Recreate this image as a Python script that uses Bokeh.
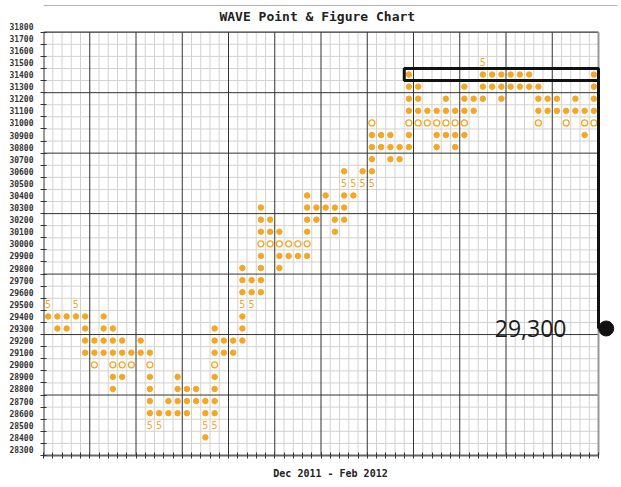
import numpy as np
from bokeh.plotting import figure
from bokeh.models import FixedTicker, NumeralTickFormatter
from bokeh.core.properties import value
from bokeh.embed import file_html
from bokeh.resources import INLINE

# ---------------- data ----------------
title_text = "WAVE Point & Figure Chart"
x_label = "Dec 2011 - Feb 2012"

price_ticks = [28300, 28400, 28500, 28600, 28700, 28800, 28900, 29000, 29100,
               29200, 29300, 29400, 29500, 29600, 29700, 29800, 29900, 30000,
               30100, 30200, 30300, 30400, 30500, 30600, 30700, 30800, 30900,
               31000, 31100, 31200, 31300, 31400, 31500, 31600, 31700, 31800]

filled_prices = [31400, 31300, 31200, 31100, 30900, 30800, 30700, 30600, 30400,
                 30300, 30200, 30100, 29900, 29800, 29700, 29600, 29400, 29300,
                 29200, 29100, 28900, 28800, 28700, 28600, 28400]
filled_columns = [
    [39, 47, 48, 49, 50, 51, 52, 59],
    [39, 40, 45, 47, 48, 49, 50, 51, 52, 53, 59],
    [39, 40, 43, 45, 46, 47, 49, 53, 54, 55, 57, 59],
    [39, 40, 41, 42, 43, 44, 45, 46, 53, 54, 55, 56, 57, 58, 59],
    [35, 36, 37, 39, 42, 43, 44, 45, 58],
    [35, 36, 37, 38, 39, 42, 44],
    [35, 37, 38],
    [32, 34, 35],
    [28, 30, 32, 33],
    [23, 28, 29, 30, 31, 32],
    [23, 24, 28, 29, 31, 32],
    [23, 24, 25, 28, 31],
    [23, 25, 26, 27, 28],
    [21, 23, 25],
    [21, 22, 23],
    [21, 22, 23],
    [0, 1, 2, 3, 4, 6, 21],
    [1, 2, 4, 6, 7, 18, 21],
    [4, 5, 6, 7, 8, 10, 18, 19, 20, 21],
    [4, 5, 6, 7, 8, 9, 10, 11, 18, 19, 20],
    [7, 8, 11, 14, 18],
    [7, 11, 14, 15, 16, 18],
    [11, 13, 14, 15, 16, 17, 18],
    [11, 12, 13, 14, 15, 17, 18],
    [17],
]

hollow_prices = [31000, 30000, 29000]
hollow_columns = [
    [35, 39, 40, 41, 42, 43, 44, 45, 53, 56, 58, 59],
    [23, 24, 25, 26, 27, 28],
    [5, 7, 8, 9, 11, 18],
]

five_prices = [31500, 30500, 29500, 28500]
five_columns = [
    [47],
    [32, 33, 34, 35],
    [0, 3, 21, 22],
    [11, 12, 17, 18],
]

box_price = 31400
box_first_column = 39
callout_price = 29300
callout_text = "29,300"

# ---------------- layout constants ----------------
N_COLS = 60
BOX = 100
P_LO, P_HI = 28250, 31750
COL_PX = 9.25
ROW_PX = 12.094
FRAME_W, FRAME_H = 574, 455
ORANGE = "#F5A623"
LIGHT = "#d2d2d2"
DARK = "#333333"


def flat(prices, columns):
    xs, ys = [], []
    for pr, cols in zip(prices, columns):
        for c in cols:
            xs.append(c + 0.5)
            ys.append(pr)
    return xs, ys


y_top = P_LO + FRAME_H / ROW_PX * BOX
x_right = FRAME_W / COL_PX


def py(page_y):
    # canvas pixel (grid bottom at 455) -> price units
    return P_LO + (FRAME_H - page_y) / ROW_PX * BOX


p = figure(frame_width=FRAME_W, frame_height=FRAME_H,
           x_range=(0, x_right), y_range=(P_LO, y_top),
           output_backend="svg", toolbar_location=None,
           min_border_left=43, min_border_right=3, min_border_top=0,
           min_border_bottom=20,
           background_fill_color="white", border_fill_color="white",
           outline_line_color=None)
p.xgrid.visible = False
p.ygrid.visible = False

# outer frame line at the very top
p.segment(x0=[0], x1=[x_right], y0=[py(5)], y1=[py(5)], line_color="#b0b0b0", line_width=1)

# grid
col_bounds = np.arange(0, N_COLS + 1)
row_bounds = np.arange(P_LO, P_HI + 1, BOX)
light_v = [c for c in col_bounds if c % 5 != 0]
dark_v = [c for c in col_bounds if c % 5 == 0 and 0 < c < N_COLS]
light_h = [r for r in row_bounds if (r - P_LO) % 500 != 0]
dark_h = [r for r in row_bounds if (r - P_LO) % 500 == 0 and P_LO < r < P_HI]

p.segment(x0=light_v, x1=light_v, y0=[P_LO] * len(light_v), y1=[P_HI] * len(light_v),
          line_color=LIGHT, line_width=1)
p.segment(x0=[0] * len(light_h), x1=[N_COLS] * len(light_h), y0=light_h, y1=light_h,
          line_color=LIGHT, line_width=1)
p.segment(x0=dark_v, x1=dark_v, y0=[P_LO] * len(dark_v), y1=[P_HI] * len(dark_v),
          line_color=DARK, line_width=1)
p.segment(x0=[0] * len(dark_h), x1=[N_COLS] * len(dark_h), y0=dark_h, y1=dark_h,
          line_color=DARK, line_width=1)
# borders
p.segment(x0=[0], x1=[N_COLS], y0=[P_HI], y1=[P_HI], line_color=DARK, line_width=1.2)
p.segment(x0=[0], x1=[0], y0=[P_LO], y1=[P_HI], line_color=DARK, line_width=2)
p.segment(x0=[N_COLS], x1=[N_COLS], y0=[P_LO], y1=[P_HI], line_color="#999999", line_width=2)

# symbols
fx, fy = flat(filled_prices, filled_columns)
p.scatter(fx, fy, marker="circle", size=5.5, fill_color=ORANGE, line_color=ORANGE)
hx, hy = flat(hollow_prices, hollow_columns)
p.scatter(hx, hy, marker="circle", size=6, fill_color="white", line_color=ORANGE,
          line_width=1.3)
sx, sy = flat(five_prices, five_columns)
p.text(sx, sy, text=["5"] * len(sx), text_font=value("DejaVu Sans Mono"),
       text_font_size="10px", text_align="center", text_baseline="middle",
       text_color=ORANGE)

# annotation
p.quad(left=[box_first_column], right=[N_COLS], bottom=[box_price - BOX / 2],
       top=[box_price + BOX / 2], fill_color=None, line_color="#111111", line_width=3)
p.segment(x0=[N_COLS], x1=[N_COLS], y0=[box_price - BOX / 2], y1=[callout_price],
          line_color="#111111", line_width=3)
p.scatter([N_COLS + 7.7 / COL_PX], [callout_price], marker="circle", size=15,
          fill_color="#111111", line_color="#111111")
p.text([N_COLS - 32 / COL_PX], [callout_price], text=[callout_text],
       text_font=value("Open Sans"), text_font_size="23px", text_align="right",
       text_baseline="middle", text_color="#1a1a1a")

# title
p.text([29.6], [py(16)], text=[title_text], text_font=value("DejaVu Sans Mono"),
       text_font_style="bold", text_font_size="13px", text_align="center",
       text_baseline="middle", text_color="#222222")

# x axis: ticks at every column boundary (as minor ticks, no labels)
p.xaxis.ticker = FixedTicker(ticks=[], minor_ticks=list(col_bounds))
p.xaxis.bounds = (0, N_COLS)
p.xaxis.major_tick_line_color = None
p.xaxis.major_tick_in = 0
p.xaxis.major_tick_out = 0
p.xaxis.minor_tick_in = 3
p.xaxis.minor_tick_out = 3
p.xaxis.minor_tick_line_color = DARK
p.xaxis.major_label_standoff = 0
p.xaxis.axis_line_color = "#666666"
p.xaxis.axis_line_width = 2
p.xaxis.axis_label = x_label
p.xaxis.axis_label_standoff = 9
p.xaxis.axis_label_text_font = "DejaVu Sans Mono"
p.xaxis.axis_label_text_font_style = "bold"
p.xaxis.axis_label_text_font_size = "10px"
p.xaxis.axis_label_text_color = "#222222"

# y axis
p.yaxis.ticker = FixedTicker(ticks=price_ticks, minor_ticks=list(row_bounds))
p.yaxis.formatter = NumeralTickFormatter(format="0")
p.yaxis.major_tick_in = 0
p.yaxis.major_tick_out = 0
p.yaxis.major_tick_line_color = None
p.yaxis.minor_tick_in = 3
p.yaxis.minor_tick_out = 3
p.yaxis.minor_tick_line_color = DARK
p.yaxis.axis_line_color = None
p.yaxis.major_label_standoff = 7
p.yaxis.major_label_text_font = "DejaVu Sans Mono"
p.yaxis.major_label_text_font_style = "bold"
p.yaxis.major_label_text_font_size = "8px"
p.yaxis.major_label_text_color = "#333333"

open("out.html", "w").write(file_html(p, INLINE))
